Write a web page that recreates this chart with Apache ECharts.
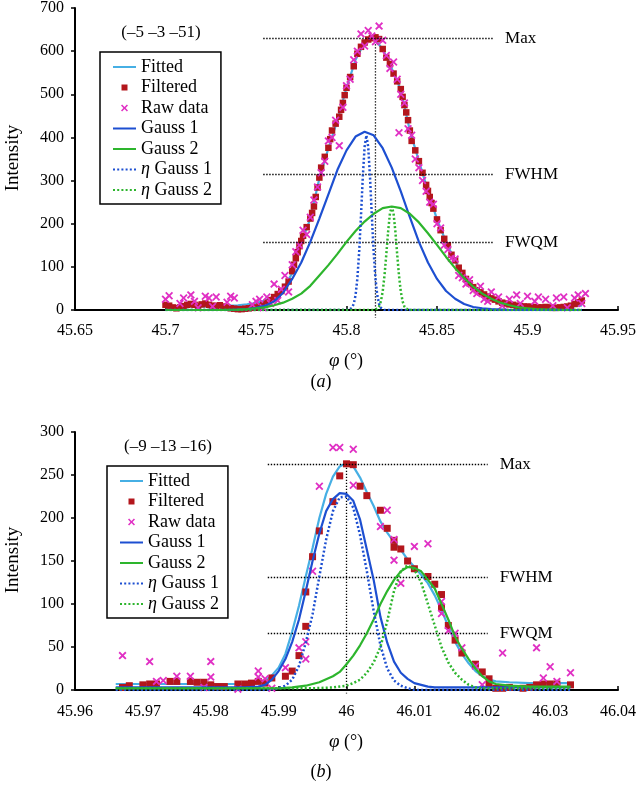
<!DOCTYPE html>
<html>
<head>
<meta charset="utf-8">
<script src="https://cdn.jsdelivr.net/npm/echarts@6/dist/echarts.min.js"></script>
<style>html,body{margin:0;padding:0;background:#fff;}#c{width:640px;height:785px;}</style>
</head>
<body>
<div id="c"></div>
<script>
// ---------- Panel (a) data ----------
const titleA = '(\u20135 \u20133 \u201351)';
const xTicksA = {min: 45.65, max: 45.95, step: 0.05};
const yTicksA = {min: 0, max: 700, step: 100};
const fittedA = [[45.700,8],[45.705,8],[45.710,8],[45.715,8],[45.720,8],[45.725,9],[45.730,9],[45.735,10],[45.740,11],[45.745,13],[45.750,16],[45.755,22],[45.760,32],[45.765,50],[45.770,85],[45.775,155],[45.780,212],[45.785,305],[45.790,375],[45.795,440],[45.800,515],[45.805,580],[45.810,620],[45.815,630],[45.820,605],[45.825,560],[45.830,510],[45.835,416],[45.840,345],[45.845,276],[45.850,210],[45.855,158],[45.860,113],[45.865,78],[45.870,53],[45.875,38],[45.880,27],[45.885,19],[45.890,14],[45.895,11],[45.900,9],[45.905,8],[45.910,8],[45.915,8],[45.920,8],[45.925,9],[45.930,10]];
const filteredA = [[45.700,12],[45.702,10],[45.704,6],[45.706,4],[45.708,6],[45.710,9],[45.712,12],[45.714,14],[45.716,12],[45.718,10],[45.720,13],[45.722,15],[45.724,12],[45.726,10],[45.728,9],[45.730,11],[45.732,8],[45.734,6],[45.736,4],[45.738,3],[45.740,2],[45.742,2],[45.744,3],[45.746,4],[45.748,5],[45.750,6],[45.752,9],[45.754,12],[45.756,17],[45.758,23],[45.760,30],[45.762,37],[45.764,44],[45.766,54],[45.768,66],[45.770,90],[45.771,105],[45.772,120],[45.773,134],[45.774,148],[45.775,160],[45.776,172],[45.778,192],[45.780,212],[45.781,225],[45.782,240],[45.783,262],[45.784,284],[45.785,307],[45.786,330],[45.788,355],[45.790,376],[45.791,396],[45.792,416],[45.794,432],[45.796,448],[45.797,464],[45.798,480],[45.799,498],[45.800,515],[45.802,540],[45.804,565],[45.806,594],[45.808,610],[45.810,620],[45.812,627],[45.814,630],[45.816,632],[45.818,628],[45.820,605],[45.822,585],[45.824,570],[45.826,548],[45.828,530],[45.830,512],[45.831,494],[45.832,475],[45.833,458],[45.834,440],[45.835,416],[45.836,392],[45.838,370],[45.840,345],[45.842,318],[45.844,290],[45.845,276],[45.846,262],[45.847,248],[45.848,235],[45.850,210],[45.852,185],[45.854,165],[45.856,150],[45.858,128],[45.860,115],[45.862,98],[45.864,86],[45.866,72],[45.868,62],[45.870,53],[45.872,46],[45.874,41],[45.876,36],[45.878,31],[45.880,27],[45.882,24],[45.884,20],[45.886,17],[45.888,15],[45.890,13],[45.892,12],[45.894,10],[45.896,9],[45.898,8],[45.900,8],[45.902,7],[45.904,7],[45.906,6],[45.908,6],[45.910,7],[45.912,6],[45.914,5],[45.916,5],[45.918,6],[45.920,7],[45.922,8],[45.924,10],[45.926,14],[45.928,18],[45.930,22]];
const rawA = [[45.700,25],[45.702,33],[45.704,-8],[45.706,-18],[45.708,15],[45.710,28],[45.712,-25],[45.714,35],[45.716,20],[45.718,5],[45.720,-5],[45.722,32],[45.724,28],[45.726,8],[45.728,30],[45.730,-10],[45.732,-12],[45.734,18],[45.736,32],[45.738,28],[45.740,-5],[45.742,-15],[45.744,-25],[45.746,-8],[45.748,12],[45.750,20],[45.752,25],[45.754,5],[45.756,30],[45.758,15],[45.760,60],[45.762,22],[45.764,48],[45.766,80],[45.768,42],[45.770,105],[45.772,135],[45.774,150],[45.776,185],[45.778,175],[45.780,215],[45.782,255],[45.784,285],[45.786,318],[45.788,345],[45.790,392],[45.792,400],[45.794,440],[45.796,381],[45.798,470],[45.800,520],[45.802,535],[45.804,580],[45.806,600],[45.808,640],[45.810,612],[45.812,648],[45.814,635],[45.816,622],[45.818,658],[45.820,625],[45.822,590],[45.824,560],[45.826,575],[45.828,535],[45.829,411],[45.830,500],[45.832,480],[45.834,420],[45.836,405],[45.838,350],[45.840,330],[45.842,300],[45.844,275],[45.846,250],[45.848,245],[45.850,200],[45.852,190],[45.854,150],[45.856,140],[45.858,120],[45.860,118],[45.862,80],[45.864,75],[45.866,60],[45.868,70],[45.870,45],[45.872,38],[45.874,55],[45.876,25],[45.878,20],[45.880,42],[45.882,-20],[45.884,30],[45.886,10],[45.888,-10],[45.890,25],[45.892,-15],[45.894,35],[45.896,15],[45.898,-8],[45.900,32],[45.902,-12],[45.904,20],[45.906,30],[45.908,-5],[45.910,25],[45.912,-38],[45.914,10],[45.916,28],[45.918,-8],[45.920,30],[45.922,5],[45.924,-36],[45.926,28],[45.928,35],[45.930,15],[45.932,38]];
const gauss1A = [[45.700,0],[45.735,0],[45.740,1],[45.745,2],[45.750,5],[45.755,10],[45.760,20],[45.765,40],[45.770,72],[45.775,110],[45.780,158],[45.785,212],[45.790,268],[45.795,325],[45.800,370],[45.805,402],[45.810,413],[45.815,405],[45.820,375],[45.825,330],[45.830,275],[45.835,215],[45.840,158],[45.845,110],[45.850,72],[45.855,44],[45.860,26],[45.865,14],[45.870,7],[45.875,4],[45.880,2],[45.885,1],[45.890,0],[45.930,0]];
const gauss2A = [[45.700,0],[45.725,0],[45.730,0],[45.740,1],[45.745,2],[45.750,4],[45.755,6],[45.760,11],[45.765,17],[45.770,26],[45.775,38],[45.780,56],[45.785,80],[45.790,104],[45.795,130],[45.800,158],[45.805,183],[45.810,205],[45.815,223],[45.820,236],[45.825,240],[45.830,236],[45.835,223],[45.840,203],[45.845,178],[45.850,151],[45.855,123],[45.860,97],[45.865,74],[45.870,54],[45.875,38],[45.880,26],[45.885,17],[45.890,11],[45.895,6],[45.900,4],[45.905,2],[45.910,1],[45.915,1],[45.920,0],[45.930,0]];
const etaGauss1A = [[45.700,0],[45.801,0],[45.802,2],[45.803,5],[45.804,14],[45.805,34],[45.806,73],[45.807,135],[45.808,218],[45.809,308],[45.810,378],[45.811,405],[45.812,378],[45.813,308],[45.814,218],[45.815,135],[45.816,73],[45.817,34],[45.818,14],[45.819,5],[45.820,2],[45.821,0],[45.930,0]];
const etaGauss2A = [[45.700,0],[45.815,0],[45.816,1],[45.817,3],[45.818,8],[45.819,20],[45.820,43],[45.821,80],[45.822,129],[45.823,182],[45.824,224],[45.825,240],[45.826,224],[45.827,182],[45.828,129],[45.829,80],[45.830,43],[45.831,20],[45.832,8],[45.833,3],[45.834,1],[45.835,0],[45.930,0]];
const refA = {xFrom: 45.754, xTo: 45.881, max: 630, half: 315, quarter: 157.5, peakX: 45.816, lineBottom: -18};

// ---------- Panel (b) data ----------
const titleB = '(\u20139 \u201313 \u201316)';
const xTicksB = {min: 45.96, max: 46.04, step: 0.01};
const yTicksB = {min: 0, max: 300, step: 50};
const fittedB = [[45.966,7],[45.975,7],[45.985,7],[45.987,8],[45.988,11],[45.989,17],[45.990,26],[45.991,42],[45.992,68],[45.993,98],[45.994,132],[45.995,165],[45.996,200],[45.997,228],[45.998,248],[45.999,260],[46.000,264],[46.001,260],[46.002,247],[46.003,230],[46.004,214],[46.005,196],[46.006,183],[46.007,172],[46.008,163],[46.009,152],[46.010,143],[46.011,134],[46.012,124],[46.013,110],[46.014,93],[46.015,74],[46.016,56],[46.017,42],[46.018,31],[46.019,22],[46.020,16],[46.021,12],[46.022,10],[46.024,9],[46.027,8],[46.033,8]];
const filteredB = [[45.967,3],[45.968,5],[45.970,6],[45.971,7],[45.972,7],[45.974,10],[45.975,10],[45.977,10],[45.978,9],[45.979,9],[45.980,6],[45.981,4],[45.982,4],[45.984,7],[45.985,7],[45.986,8],[45.987,10],[45.988,8],[45.989,14],[45.991,16],[45.992,22],[45.993,40],[45.994,74],[45.994,114],[45.995,155],[45.996,185],[45.998,219],[45.999,249],[46.000,263],[46.001,262],[46.002,237],[46.003,226],[46.005,209],[46.006,188],[46.007,174],[46.007,166],[46.008,164],[46.009,150],[46.010,141],[46.012,132],[46.013,123],[46.014,111],[46.014,96],[46.015,75],[46.016,58],[46.017,43],[46.019,30],[46.020,21],[46.021,13],[46.021,6],[46.022,2],[46.023,2],[46.024,3],[46.026,2],[46.027,3],[46.028,6],[46.029,7],[46.030,7],[46.031,7],[46.033,6]];
const rawB = [[45.967,40],[45.968,-7],[45.971,33],[45.972,10],[45.973,11],[45.974,-20],[45.975,16],[45.977,16],[45.979,3],[45.980,33],[45.980,15],[45.981,-8],[45.982,-38],[45.984,1],[45.985,-28],[45.987,22],[45.987,15],[45.988,13],[45.989,2],[45.991,26],[45.992,-2],[45.993,49],[45.994,56],[45.994,36],[45.995,138],[45.996,237],[45.998,282],[45.999,282],[46.001,280],[46.001,238],[46.005,190],[46.006,209],[46.007,151],[46.007,175],[46.008,124],[46.010,167],[46.012,170],[46.014,103],[46.014,89],[46.015,69],[46.016,66],[46.017,49],[46.019,28],[46.020,6],[46.0205,-1],[46.021,-6],[46.021,-14],[46.022,-2],[46.023,43],[46.024,-4],[46.026,-20],[46.027,-11],[46.028,-11],[46.028,49],[46.029,14],[46.030,27],[46.031,10],[46.033,20]];
const gauss1B = [[45.966,3],[45.970,3],[45.975,3],[45.980,3],[45.985,3],[45.987,4],[45.988,6],[45.989,12],[45.990,22],[45.991,36],[45.992,56],[45.993,82],[45.994,115],[45.995,150],[45.996,182],[45.997,208],[45.998,222],[45.999,229],[46.000,228],[46.001,220],[46.002,198],[46.003,163],[46.004,128],[46.005,85],[46.006,55],[46.007,33],[46.008,20],[46.009,13],[46.010,8],[46.011,6],[46.012,4],[46.013,3],[46.020,3],[46.033,3]];
const gauss2B = [[45.966,2],[45.980,2],[45.990,2],[45.992,3],[45.994,5],[45.996,9],[45.998,16],[45.999,21],[46.000,30],[46.001,40],[46.002,52],[46.003,66],[46.004,82],[46.005,100],[46.006,115],[46.007,128],[46.008,138],[46.009,143],[46.010,142],[46.011,138],[46.012,128],[46.013,118],[46.014,100],[46.015,82],[46.016,62],[46.017,48],[46.018,36],[46.019,25],[46.020,16],[46.021,10],[46.022,7],[46.024,5],[46.027,4],[46.033,4]];
const etaGauss1B = [[45.966,0],[45.988,0],[45.990,2],[45.991,5],[45.992,12],[45.993,28],[45.994,55],[45.995,88],[45.996,132],[45.997,175],[45.998,208],[45.999,224],[46.000,225],[46.001,212],[46.002,180],[46.003,138],[46.004,92],[46.005,52],[46.006,25],[46.007,11],[46.008,5],[46.009,2],[46.010,0],[46.033,0]];
const etaGauss2B = [[45.966,2],[45.995,2],[45.998,3],[46.000,5],[46.001,8],[46.002,12],[46.003,20],[46.004,32],[46.005,50],[46.006,80],[46.007,115],[46.008,138],[46.009,145],[46.010,140],[46.011,125],[46.012,100],[46.013,75],[46.014,50],[46.015,32],[46.016,20],[46.017,12],[46.018,6],[46.019,3],[46.020,2],[46.033,2]];
const refB = {xFrom: 45.9884, xTo: 46.0208, max: 262, half: 131, quarter: 65.5, peakX: 46.0, lineBottom: -4};

const seriesNames = ['Fitted', 'Filtered', 'Raw data', 'Gauss 1', 'Gauss 2', '\u03b7 Gauss 1', '\u03b7 Gauss 2'];
const refNames = ['Max', 'FWHM', 'FWQM'];

// ---------- styling ----------
const SERIF = '"Liberation Serif", "Times New Roman", "DejaVu Serif", serif';
const C_FIT = '#46afe4';
const C_FILT = '#b3161c';
const C_RAW = '#e030c4';
const C_G1 = '#1d4fd1';
const C_G2 = '#2db52d';
const X_SYMBOL = 'path://M0,1.6L1.6,0L5,3.4L8.4,0L10,1.6L6.6,5L10,8.4L8.4,10L5,6.6L1.6,10L0,8.4L3.4,5Z';
const X_ICON = 'path://M0,0M14,14M3.5,4.62L4.62,3.5L7,5.88L9.38,3.5L10.5,4.62L8.12,7L10.5,9.38L9.38,10.5L7,8.12L4.62,10.5L3.5,9.38L5.88,7Z';
const SQ_ICON = 'path://M0,0M14,14M4,4L10,4L10,10L4,10Z';
const REF_DASH = [1.4, 1.6];

function fmtTick(v) { return String(parseFloat(v.toFixed(3))); }

function axesFor(i, xt, yt, xMargin) {
  const x = {
    type: 'value', gridIndex: i, min: xt.min, max: xt.max, interval: xt.step,
    axisLine: {onZero: false, lineStyle: {color: '#000', width: 2}},
    axisTick: {show: true, inside: true, length: 4, lineStyle: {color: '#000', width: 1.5}},
    axisLabel: {formatter: fmtTick, color: '#000', fontFamily: SERIF, fontSize: 16, margin: xMargin},
    splitLine: {show: false}
  };
  const y = {
    type: 'value', gridIndex: i, min: yt.min, max: yt.max, interval: yt.step,
    axisLine: {show: true, onZero: false, lineStyle: {color: '#000', width: 2}},
    axisTick: {show: true, inside: false, length: 4, lineStyle: {color: '#000', width: 1.5}},
    axisLabel: {color: '#000', fontFamily: SERIF, fontSize: 16, margin: 11},
    splitLine: {show: false}
  };
  return [x, y];
}

function seriesFor(i, d, ref, markSize) {
  const base = {xAxisIndex: i, yAxisIndex: i, animation: false};
  const lineS = (name, data, color, width, dotted, z) => Object.assign({}, base, {
    type: 'line', name, data, symbol: 'none', showSymbol: false, z,
    lineStyle: {color, width, type: dotted ? [2, 2.2] : 'solid'},
    itemStyle: {color}
  });
  return [
    // vertical peak marker (drawn through the axis, so not clipped)
    Object.assign({}, base, {
      type: 'line', name: 'peak' + i, data: [[ref.peakX, ref.max], [ref.peakX, ref.lineBottom]],
      symbol: 'none', showSymbol: false, clip: false, silent: true, z: 1,
      lineStyle: {color: '#000', width: 1.3, type: REF_DASH}
    }),
    lineS(seriesNames[0], d.fitted, C_FIT, 2.2, false, 2),
    Object.assign({}, base, {type: 'scatter', name: seriesNames[1], data: d.filtered, symbol: 'rect', symbolSize: markSize, itemStyle: {color: C_FILT, opacity: 1}, z: 3}),
    Object.assign({}, base, {type: 'scatter', name: seriesNames[2], data: d.raw, symbol: X_SYMBOL, symbolSize: 8, itemStyle: {color: C_RAW, opacity: 1}, z: 4}),
    lineS(seriesNames[3], d.g1, C_G1, 2.2, false, 5),
    lineS(seriesNames[4], d.g2, C_G2, 2.2, false, 5),
    lineS(seriesNames[5], d.eg1, C_G1, 2.5, true, 5),
    lineS(seriesNames[6], d.eg2, C_G2, 2.5, true, 5),
    Object.assign({}, base, {
      type: 'line', name: 'ref' + i, data: [[ref.xFrom, ref.max]], symbol: 'none', showSymbol: false,
      lineStyle: {opacity: 0}, z: 6,
      markLine: {
        silent: true, symbol: ['none', 'none'], animation: false,
        lineStyle: {color: '#000', width: 1.3, type: REF_DASH},
        label: {show: true, position: 'end', distance: 12, formatter: '{b}', color: '#000', fontFamily: SERIF, fontSize: 17},
        emphasis: {disabled: true},
        data: [
          [{name: refNames[0], coord: [ref.xFrom, ref.max]}, {coord: [ref.xTo, ref.max]}],
          [{name: refNames[1], coord: [ref.xFrom, ref.half]}, {coord: [ref.xTo, ref.half]}],
          [{name: refNames[2], coord: [ref.xFrom, ref.quarter]}, {coord: [ref.xTo, ref.quarter]}]
        ]
      }
    })
  ];
}

function legendFor(left, top) {
  return {
    left, top, orient: 'vertical', selectedMode: false,
    data: seriesNames.map((n, k) => {
      if (k === 1) return {name: n, icon: SQ_ICON};
      if (k === 2) return {name: n, icon: X_ICON};
      return {name: n, itemStyle: {opacity: 0, color: 'rgba(0,0,0,0)', borderWidth: 0}};
    }),
    symbolKeepAspect: true,
    itemWidth: 23, itemHeight: 14, itemGap: 2.5, itemTextGap: 11,
    padding: [6, 9, 5, 12],
    borderColor: '#000', borderWidth: 1.5, borderRadius: 0, backgroundColor: '#fff',
    textStyle: {color: '#000', fontFamily: SERIF, fontSize: 18, lineHeight: 18,
      rich: {i: {fontStyle: 'italic', fontFamily: SERIF, fontSize: 18, color: '#000'}}},
    formatter: n => n.charAt(0) === '\u03b7' ? '{i|\u03b7}' + n.slice(1) : n
  };
}

const [xa, ya] = axesFor(0, xTicksA, yTicksA, 13);
const [xb, yb] = axesFor(1, xTicksB, yTicksB, 14);

function txt(x, y, text, size, extra) {
  return Object.assign({
    type: 'text', x, y, silent: true,
    style: Object.assign({text, fill: '#000', font: size + 'px ' + SERIF, fontFamily: SERIF, fontSize: size,
      align: 'center', verticalAlign: 'middle', textAlign: 'center', textVerticalAlign: 'middle'}, extra || {})
  }, {});
}
function phiLabel(x, y) {
  return {type: 'text', x, y, silent: true, style: {
    text: '{i|\u03c6} (\u00b0)', fill: '#000', fontFamily: SERIF, fontSize: 18, align: 'center', verticalAlign: 'middle',
    rich: {i: {fontStyle: 'italic', fontFamily: SERIF, fontSize: 19, fill: '#000'}}
  }};
}
function ital(x, y, letter) {
  return {type: 'text', x, y, silent: true, style: {
    text: '({i|' + letter + '})', fill: '#000', fontFamily: SERIF, fontSize: 18, align: 'center', verticalAlign: 'middle',
    rich: {i: {fontStyle: 'italic', fontFamily: SERIF, fontSize: 18, fill: '#000'}}
  }};
}

const option = {
  backgroundColor: '#fff',
  animation: false,
  grid: [
    {left: 75, top: 7, width: 543, height: 303, containLabel: false},
    {left: 75, top: 432, width: 543, height: 258, containLabel: false}
  ],
  xAxis: [xa, xb],
  yAxis: [ya, yb],
  legend: [legendFor(100, 52), legendFor(107, 466)],
  series: [].concat(
    seriesFor(0, {fitted: fittedA, filtered: filteredA, raw: rawA, g1: gauss1A, g2: gauss2A, eg1: etaGauss1A, eg2: etaGauss2A}, refA, 6.5),
    seriesFor(1, {fitted: fittedB, filtered: filteredB, raw: rawB, g1: gauss1B, g2: gauss2B, eg1: etaGauss1B, eg2: etaGauss2B}, refB, 7)
  ),
  graphic: [
    txt(161, 33, titleA, 17),
    txt(168, 447, titleB, 17),
    txt(13, 158, 'Intensity', 19, {}),
    txt(13, 560, 'Intensity', 19, {}),
    phiLabel(346, 361),
    phiLabel(346, 742),
    ital(321, 382, 'a'),
    ital(321, 772, 'b')
  ]
};
option.graphic[2].rotation = Math.PI / 2;
option.graphic[3].rotation = Math.PI / 2;

const chart = echarts.init(document.getElementById('c'), null, {renderer: 'canvas'});
chart.setOption(option);
</script>
</body>
</html>
